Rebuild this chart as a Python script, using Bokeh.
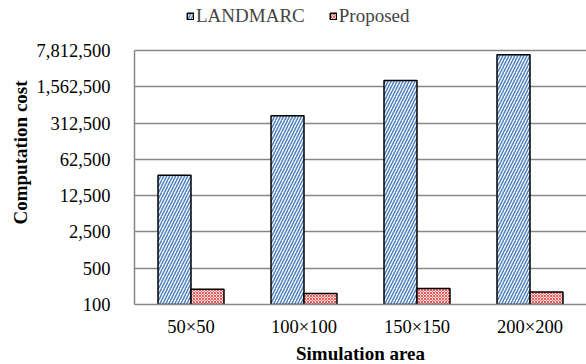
from bokeh.plotting import figure
from bokeh.models import (FactorRange, FixedTicker, NumeralTickFormatter,
                          Legend, LegendItem, ColumnDataSource, Range1d)
from bokeh.transform import dodge
from bokeh.embed import file_html
from bokeh.resources import INLINE

categories = ["50×50", "100×100", "150×150", "200×200"]
landmarc = [30750, 432500, 2066000, 6450000]
proposed = [197, 162, 203, 175]
y_ticks = [100, 500, 2500, 12500, 62500, 312500, 1562500, 7812500]
series_names = ["LANDMARC", "Proposed"]

FONT = "Liberation Serif"

# frame extends above the top gridline so the legend can sit inside it
y_top = y_ticks[-1] * 5 ** (50 / 36.3)

src = ColumnDataSource(dict(cat=categories, landmarc=landmarc, proposed=proposed,
                            base=[y_ticks[0]] * len(categories)))

p = figure(frame_width=452, frame_height=304, x_range=FactorRange(*categories),
           y_range=Range1d(y_ticks[0], y_top), y_axis_type="log",
           output_backend="svg", toolbar_location=None,
           min_border_left=134, min_border_right=0,
           min_border_top=0, min_border_bottom=60)
p.outline_line_color = None

r1 = p.vbar(x=dodge("cat", -0.146, range=p.x_range), bottom="base", top="landmarc",
            width=0.292, source=src, fill_color="white", line_color="black",
            line_width=1.5, hatch_pattern="right_diagonal_line", hatch_color="#4F81BD",
            hatch_scale=6, hatch_weight=1.5)
r2 = p.vbar(x=dodge("cat", 0.146, range=p.x_range), bottom="base", top="proposed",
            width=0.292, source=src, fill_color="#FBE0E0", line_color="black",
            line_width=1.5, hatch_pattern="x", hatch_color="#E85A5A",
            hatch_scale=3, hatch_weight=1)

p.xgrid.grid_line_color = None
p.ygrid.grid_line_color = "#878787"
p.ygrid.grid_line_width = 1.5
p.yaxis.ticker = FixedTicker(ticks=y_ticks)
p.yaxis.formatter = NumeralTickFormatter(format="0,0")
p.yaxis.bounds = (y_ticks[0], y_ticks[-1])
for ax in (p.xaxis[0], p.yaxis[0]):
    ax.axis_line_color = "#878787"
    ax.axis_line_width = 1.5
    ax.major_tick_line_color = None
    ax.minor_tick_line_color = None
    ax.major_tick_out = 0
    ax.major_tick_in = 0
    ax.minor_tick_out = 0
    ax.major_label_text_font = FONT
    ax.major_label_text_font_size = "18.5px"
    ax.major_label_text_color = "black"
    ax.axis_label_text_font = FONT
    ax.axis_label_text_font_style = "bold"
    ax.axis_label_text_font_size = "19px"
    ax.axis_label_text_color = "black"
p.yaxis.major_label_standoff = 24
p.xaxis.major_label_standoff = 12
p.yaxis.axis_label = "Computation cost"
p.xaxis.axis_label = "Simulation area"
p.yaxis.axis_label_standoff = 3
p.xaxis.axis_label_standoff = 3

legend = Legend(items=[LegendItem(label=series_names[0], renderers=[r1]),
                       LegendItem(label=series_names[1], renderers=[r2])],
                orientation="horizontal", location=(52, 277),
                glyph_width=8, glyph_height=8, label_text_font=FONT,
                label_text_font_size="19px", spacing=24, padding=0,
                margin=0, border_line_color=None, background_fill_alpha=0,
                label_standoff=2, label_height=19)
p.add_layout(legend, "center")

open("out.html", "w").write(file_html(p, INLINE))
